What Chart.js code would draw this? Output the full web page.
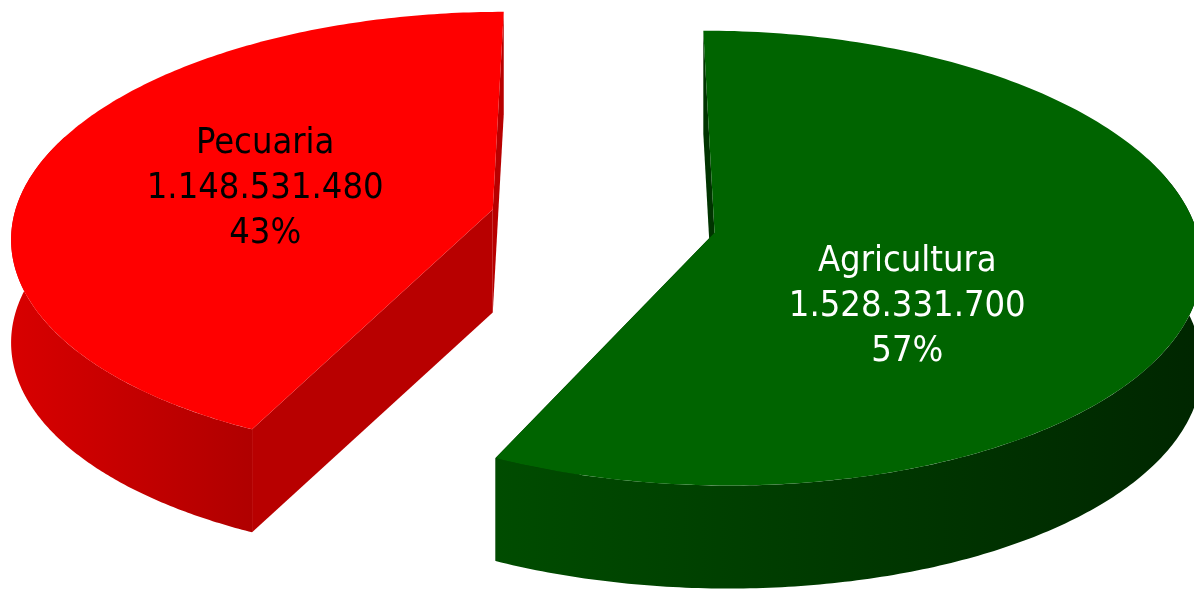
<!DOCTYPE html>
<html>
<head>
<meta charset="utf-8">
<script src="https://cdn.jsdelivr.net/npm/chart.js@4"></script>
<style>
  html, body { margin: 0; padding: 0; background: #fff; }
  #wrap { width: 1194px; height: 595px; }
</style>
</head>
<body>
<div id="wrap"><canvas id="pieChart"></canvas></div>
<script>
// values
const categories = ['Agricultura', 'Pecuaria'];
const values = [1528331700, 1148531480];

// colours: top face, wall (lit side), wall (shaded side), cut faces, label text
const topColors = ['#006400', '#ff0000'];
const wallLight = ['#004c00', '#d80000'];
const wallDark = ['#002600', '#b00000'];
const cutColors = ['#003400', '#b80000'];
const textColors = ['#ffffff', '#000000'];

const total = values.reduce((a, b) => a + b, 0);
const fmt = n => String(n).replace(/\B(?=(\d{3})+(?!\d))/g, '.');

// fake 3D: the flat pie is laid on the ground and seen from above, in perspective
const view = { cx: 603, cy: 221, rx: 480, ry: 222, persp: 0.111, depth: 103 };

function project(u, v, drop) {
  const w = 1 / (1 - view.persp * v);
  return [view.cx + view.rx * u * w, view.cy + view.ry * v * w + drop];
}

function poly(ctx, pts, fill) {
  ctx.beginPath();
  pts.forEach((p, i) => i ? ctx.lineTo(p[0], p[1]) : ctx.moveTo(p[0], p[1]));
  ctx.closePath();
  ctx.fillStyle = fill;
  ctx.fill();
}

function sliceGeom(arc) {
  const { startAngle, endAngle, outerRadius } = arc.getProps(['startAngle', 'endAngle', 'outerRadius'], true);
  const mid = (startAngle + endAngle) / 2;
  const off = arc.options.offset / outerRadius;
  const ou = off * Math.cos(mid), ov = off * Math.sin(mid);
  const pt = (t, r, drop) => project(ou + r * Math.cos(t), ov + r * Math.sin(t), drop);
  return { startAngle, endAngle, mid, pt };
}

const pie3d = {
  id: 'pie3d',
  beforeDatasetsDraw(chart, args, opts) {
    const ctx = chart.ctx;
    const meta = chart.getDatasetMeta(0);
    const D = view.depth;
    ctx.save();
    meta.data.forEach((arc, i) => {
      const g = sliceGeom(arc);
      const n = 200;

      // cut faces along the two radii
      [g.startAngle, g.endAngle].forEach(t => {
        poly(ctx, [g.pt(t, 0, 0), g.pt(t, 1, 0), g.pt(t, 1, D), g.pt(t, 0, D)], cutColors[i]);
      });

      // outer wall, front half (a bit past it so the silhouette is complete)
      const a0 = Math.max(g.startAngle, -0.35), a1 = Math.min(g.endAngle, Math.PI + 0.35);
      if (a1 > a0) {
        const topEdge = [], botEdge = [];
        for (let k = 0; k <= n; k++) {
          const t = a0 + (a1 - a0) * k / n;
          topEdge.push(g.pt(t, 1, 0));
          botEdge.push(g.pt(t, 1, D));
        }
        const xs = topEdge.map(p => p[0]);
        const grad = ctx.createLinearGradient(Math.min(...xs), 0, Math.max(...xs), 0);
        grad.addColorStop(0, wallLight[i]);
        grad.addColorStop(1, wallDark[i]);
        poly(ctx, topEdge.concat(botEdge.reverse()), grad);
      }

      // top face
      const face = [g.pt(0, 0, 0)];
      for (let k = 0; k <= n; k++) {
        face.push(g.pt(g.startAngle + (g.endAngle - g.startAngle) * k / n, 1, 0));
      }
      poly(ctx, face, topColors[i]);
    });

    // labels
    ctx.font = '36px "DejaVu Sans Condensed", "DejaVu Sans", sans-serif';
    ctx.textAlign = 'center';
    ctx.textBaseline = 'middle';
    meta.data.forEach((arc, i) => {
      const g = sliceGeom(arc);
      const p = g.pt(g.mid, opts.labelRadius, 0);
      const x = p[0] + opts.labelNudge[i][0], y = p[1] + opts.labelNudge[i][1];
      const lines = [categories[i], fmt(values[i]), Math.round(values[i] / total * 100) + '%'];
      ctx.fillStyle = textColors[i];
      lines.forEach((s, k) => ctx.fillText(s, x, y + (k - 1) * 45));
    });
    ctx.restore();
    return false;
  }
};

new Chart(document.getElementById('pieChart'), {
  type: 'pie',
  plugins: [pie3d],
  data: {
    labels: categories,
    datasets: [{
      data: values,
      backgroundColor: topColors,
      borderWidth: 0,
      offset: 63
    }]
  },
  options: {
    responsive: true,
    maintainAspectRatio: false,
    animation: false,
    layout: { padding: 0 },
    plugins: {
      legend: { display: false },
      tooltip: { enabled: false },
      pie3d: { labelRadius: 0.5, labelNudge: [[-47, 49], [1, 3]] }
    }
  }
});
</script>
</body>
</html>
